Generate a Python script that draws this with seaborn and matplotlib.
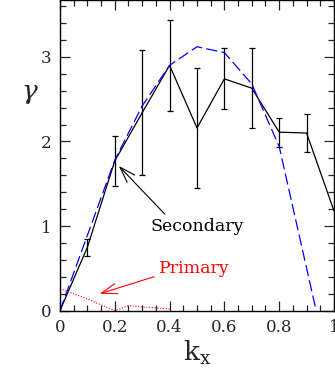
import matplotlib
matplotlib.use("Agg")
import matplotlib.pyplot as plt
import seaborn as sns
import pandas as pd
import numpy as np

# data
kx_sec = [0.0, 0.1, 0.2, 0.3, 0.4, 0.5, 0.6, 0.7, 0.8, 0.9, 1.0]
gamma_sec = [0.0, 0.75, 1.77, 2.34, 2.90, 2.16, 2.74, 2.63, 2.11, 2.10, 1.18]
err_sec = [0.0, 0.10, 0.30, 0.74, 0.54, 0.71, 0.36, 0.47, 0.17, 0.22, 0.0]

kx_model = [0.0, 0.1, 0.2, 0.3, 0.4, 0.5, 0.6, 0.7, 0.8, 0.935]
gamma_model = [0.0, 0.89, 1.78, 2.42, 2.90, 3.12, 3.05, 2.68, 1.94, 0.0]

kx_pri = [0.0, 0.1, 0.2, 0.25, 0.3, 0.4]
gamma_pri = [0.26, 0.14, 0.0, 0.06, 0.045, 0.02]

sns.set_style("ticks")
plt.rcParams['font.family'] = ['DejaVu Serif', 'DejaVu Sans']
plt.rcParams['mathtext.fontset'] = 'dejavuserif'

fig = plt.figure(figsize=(3.35, 3.78), dpi=100)
ax = fig.add_axes([0.179, 0.178, 0.818, 0.8215])

df_sec = pd.DataFrame({"kx": kx_sec, "g": gamma_sec})
df_mod = pd.DataFrame({"kx": kx_model, "g": gamma_model})
df_pri = pd.DataFrame({"kx": kx_pri, "g": gamma_pri})

sns.lineplot(data=df_sec, x="kx", y="g", ax=ax, color="black", lw=0.9, sort=False)
ax.errorbar(kx_sec[1:-1], gamma_sec[1:-1], yerr=err_sec[1:-1], fmt='none',
            ecolor='black', elinewidth=0.9, capsize=2.5, capthick=0.9)
sns.lineplot(data=df_mod, x="kx", y="g", ax=ax, color="blue", lw=0.9, sort=False)
ax.lines[-1].set_dashes([9, 3.5])
sns.lineplot(data=df_pri, x="kx", y="g", ax=ax, color="red", lw=0.8, sort=False)
ax.lines[-1].set_dashes([1, 1.5])

ax.set_xlim(0, 1)
ax.set_ylim(0, 3.67)
ax.set_xticks([0, 0.2, 0.4, 0.6, 0.8, 1.0])
ax.set_xticklabels(["0", "0.2", "0.4", "0.6", "0.8", "1"])
ax.set_xticks(np.arange(0, 1.001, 0.05), minor=True)
ax.set_yticks([0, 1, 2, 3])
ax.set_yticklabels(["0", "1", "2", "3"])
ax.set_yticks(np.arange(0, 3.67, 0.2), minor=True)
ax.tick_params(which='both', direction='in', top=True, right=True, labelsize=12,
               width=0.9, pad=6)
ax.tick_params(which='major', length=7)
ax.tick_params(which='minor', length=4)
for s in ax.spines.values():
    s.set_linewidth(1.0)
    s.set_color('black')

ax.set_xlabel(r"$\mathrm{k_x}$", fontsize=19)
ax.set_ylabel(r"$\gamma$", fontsize=19, rotation=0)
ax.xaxis.set_label_coords(0.5, -0.09)
ax.yaxis.set_label_coords(-0.11, 0.66)

ax.annotate("Secondary", xy=(0.215, 1.71), xytext=(0.5, 0.99), fontsize=12.5,
            ha='center', va='center', color='black',
            arrowprops=dict(arrowstyle='->,head_length=0.9,head_width=0.3',
                            color='black', lw=0.8, shrinkA=1, shrinkB=0,
                            relpos=(0.2, 1.0)))
ax.annotate("Primary", xy=(0.145, 0.2), xytext=(0.49, 0.5), fontsize=12.5,
            ha='center', va='center', color='red',
            arrowprops=dict(arrowstyle='->,head_length=0.9,head_width=0.3',
                            color='red', lw=0.8, shrinkA=1, shrinkB=0,
                            relpos=(0.0, 0.1)))

fig.savefig("out.png", dpi=100)
